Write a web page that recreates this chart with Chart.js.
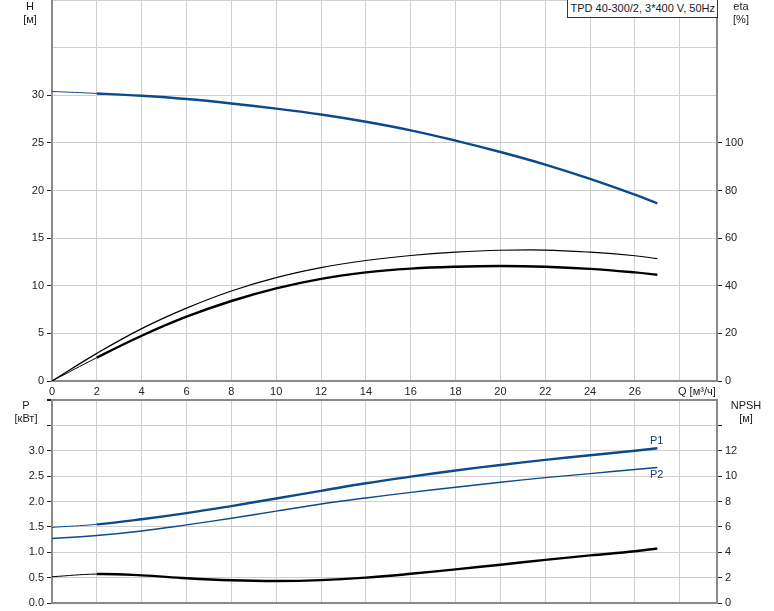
<!DOCTYPE html>
<html>
<head>
<meta charset="utf-8">
<script src="https://cdn.jsdelivr.net/npm/chart.js@4.4.1/dist/chart.umd.min.js"></script>
<style>
  body { margin: 0; background: #fff; }
  #wrap { position: relative; width: 774px; height: 611px; font-family: "Liberation Sans", Arial, sans-serif; font-size: 11px; color: #1a1a1a; }
  canvas { position: absolute; left: 0; }
  .lbl { position: absolute; text-align: center; line-height: 13px; white-space: nowrap; }
  #title { position: absolute; right: 56px; top: 0; height: 17px; padding: 0 2px; border: 1px solid #333; border-top: none; background: #fff; line-height: 17px; white-space: nowrap; }
</style>
</head>
<body>
<div id="wrap">
  <canvas id="topChart" width="774" height="400" style="top:0"></canvas>
  <canvas id="botChart" width="774" height="213" style="top:398px"></canvas>
  <div id="title">TPD 40-300/2, 3*400 V, 50Hz</div>
  <div class="lbl" style="left:15px;top:0;width:30px">H<br>[м]</div>
  <div class="lbl" style="left:726px;top:0;width:30px">eta<br>[%]</div>
  <div class="lbl" style="left:8px;top:399px;width:36px">P<br>[кВт]</div>
  <div class="lbl" style="left:728px;top:399px;width:36px">NPSH<br>[м]</div>
  <div class="lbl" style="left:678px;top:385px">Q [м³/ч]</div>
  <div class="lbl" style="left:650px;top:434px;color:#1d3f6e">P1</div>
  <div class="lbl" style="left:650px;top:468px;color:#1d3f6e">P2</div>
</div>
<script>
// flow points
var qFlow = [0, 2, 4, 6, 8, 10, 12, 14, 16, 18, 20, 22, 24, 26, 27];

// top panel: head [m] and efficiencies [%]
var head = [30.4, 30.19, 29.94, 29.6, 29.14, 28.6, 27.98, 27.22, 26.32, 25.24, 24.04, 22.72, 21.22, 19.56, 18.65];
var etaTotal = [0, 11.6, 22.0, 30.6, 37.8, 43.4, 47.6, 50.6, 52.7, 54.1, 54.9, 55.0, 54.1, 52.6, 51.4];
var etaPump = [0, 9.8, 19.0, 27.0, 33.6, 38.9, 42.9, 45.6, 47.2, 48.0, 48.3, 48.0, 47.1, 45.6, 44.6];

// bottom panel: power [kW] and NPSH [m]
var powerP1 = [1.49, 1.55, 1.65, 1.77, 1.91, 2.06, 2.21, 2.36, 2.49, 2.61, 2.72, 2.82, 2.91, 3.00, 3.05];
var powerP2 = [1.27, 1.33, 1.42, 1.54, 1.67, 1.81, 1.95, 2.07, 2.18, 2.28, 2.38, 2.47, 2.55, 2.63, 2.67];
var npsh = [2.07, 2.28, 2.18, 1.95, 1.79, 1.73, 1.8, 2.0, 2.3, 2.65, 3.02, 3.4, 3.75, 4.08, 4.3];

var qMax = 29.66;
var blue = '#0b4a8b';
var gridColor = '#cfcfcf';
var axisColor = '#8a8a8a';
var tickColor = '#222';

Chart.defaults.font.family = '"Liberation Sans", Arial, sans-serif';
Chart.defaults.font.size = 11;
Chart.defaults.color = '#1a1a1a';

function pts(ys) {
    return qFlow.map(function (q, i) { return { x: q, y: ys[i] }; });
}

// thin stub from Q=0 to the first measured point, thick afterwards
function stubWidth(w) {
    return function (ctx) { return ctx.p0.parsed.x < 2 ? 1 : w; };
}

function curve(ys, color, width, axis, stub) {
    var ds = {
        data: pts(ys),
        borderColor: color,
        borderWidth: width,
        yAxisID: axis,
        pointRadius: 0,
        tension: 0.4,
        fill: false
    };
    if (stub) ds.segment = { borderWidth: stubWidth(width) };
    return ds;
}

function fixWidth(w) {
    return function (s) { s.width = w; s.paddingTop = 0; s.paddingBottom = 0; };
}
function fixHeight(h) {
    return function (s) { s.height = h; s.paddingLeft = 0; s.paddingRight = 0; };
}

// ---------------- top chart ----------------
new Chart(document.getElementById('topChart'), {
    type: 'line',
    data: {
        datasets: [
            curve(head, blue, 2.4, 'y', true),
            curve(etaTotal, '#000', 1.2, 'yEta', false),
            curve(etaPump, '#000', 2.4, 'yEta', true)
        ]
    },
    options: {
        responsive: false,
        animation: false,
        devicePixelRatio: 1,
        layout: { padding: 0 },
        plugins: { legend: { display: false }, tooltip: { enabled: false } },
        scales: {
            x: {
                type: 'linear', min: 0, max: qMax,
                ticks: {
                    stepSize: 2, includeBounds: false, maxRotation: 0, autoSkip: false, padding: 4, color: tickColor,
                    callback: function (v) { return v >= 28 ? '' : v; }
                },
                grid: { color: gridColor, drawTicks: false },
                border: { color: axisColor, width: 2 },
                afterFit: fixHeight(19)
            },
            y: {
                position: 'left', min: 0, max: 40,
                ticks: {
                    stepSize: 5, padding: 3, color: tickColor,
                    callback: function (v) { return v <= 30 ? v : ''; }
                },
                grid: {
                    color: gridColor, tickLength: 5,
                    tickColor: function (c) { return c.tick && c.tick.value <= 30 ? tickColor : 'rgba(0,0,0,0)'; }
                },
                border: { color: axisColor, width: 2 },
                afterFit: fixWidth(52)
            },
            yEta: {
                position: 'right', min: 0, max: 160,
                ticks: {
                    stepSize: 20, padding: 3, color: tickColor,
                    callback: function (v) { return v <= 100 ? v : ''; }
                },
                grid: {
                    drawOnChartArea: false, tickLength: 5,
                    tickColor: function (c) { return c.tick && c.tick.value <= 100 ? tickColor : 'rgba(0,0,0,0)'; }
                },
                border: { color: axisColor, width: 2 },
                afterFit: fixWidth(57)
            }
        }
    }
});

// ---------------- bottom chart ----------------
new Chart(document.getElementById('botChart'), {
    type: 'line',
    data: {
        datasets: [
            curve(powerP1, blue, 2.4, 'yP', true),
            curve(powerP2, blue, 1.4, 'yP', false),
            curve(npsh, '#000', 2.4, 'yN', true)
        ]
    },
    options: {
        responsive: false,
        animation: false,
        devicePixelRatio: 1,
        layout: { padding: { top: 2 } },
        plugins: { legend: { display: false }, tooltip: { enabled: false } },
        scales: {
            x: {
                type: 'linear', min: 0, max: qMax,
                ticks: { stepSize: 2, includeBounds: false, display: false },
                grid: { color: gridColor, drawTicks: false },
                border: { color: axisColor, width: 2 },
                afterFit: fixHeight(8)
            },
            yP: {
                position: 'left', min: 0, max: 4,
                ticks: {
                    stepSize: 0.5, padding: 3, color: tickColor,
                    callback: function (v) { return v < 3.4 ? v.toFixed(1) : ''; }
                },
                grid: {
                    tickLength: 5, tickColor: tickColor,
                    color: function (c) { return c.tick && c.tick.value >= 4 ? axisColor : gridColor; },
                    lineWidth: function (c) { return c.tick && c.tick.value >= 4 ? 2 : 1; }
                },
                border: { color: axisColor, width: 2 },
                afterFit: fixWidth(52)
            },
            yN: {
                position: 'right', min: 0, max: 16,
                ticks: {
                    stepSize: 2, padding: 3, color: tickColor,
                    callback: function (v) { return v <= 12 ? v : ''; }
                },
                grid: {
                    drawOnChartArea: false, tickLength: 5,
                    tickColor: function (c) { return c.tick && c.tick.value < 16 ? tickColor : 'rgba(0,0,0,0)'; }
                },
                border: { color: axisColor, width: 2 },
                afterFit: fixWidth(57)
            }
        }
    }
});
</script>
</body>
</html>
